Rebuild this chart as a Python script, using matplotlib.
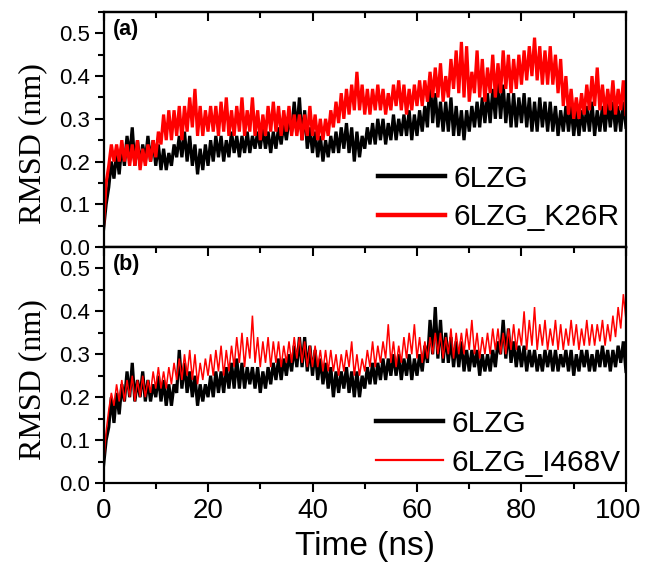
"""RMSD traces for 6LZG vs. the K26R and I468V variants (two stacked panels)."""

import matplotlib
matplotlib.use("Agg")
import matplotlib.pyplot as plt
import matplotlib.transforms as mtransforms
import numpy as np
from matplotlib.ticker import MultipleLocator

OUT_PATH = "out.png"

# time axis in ns, one low/high envelope pair per ns
TIME_NS = list(range(0, 101))

# panel (a): 6LZG
A_WT_LO = [0.04, 0.14, 0.16, 0.17, 0.19, 0.21, 0.19, 0.19, 0.20, 0.20,
           0.19, 0.18, 0.18, 0.19, 0.21, 0.21, 0.20, 0.19, 0.17, 0.18,
           0.19, 0.20, 0.21, 0.20, 0.21, 0.22, 0.21, 0.22, 0.22, 0.23,
           0.23, 0.23, 0.22, 0.23, 0.24, 0.25, 0.27, 0.27, 0.25, 0.23,
           0.22, 0.21, 0.20, 0.21, 0.22, 0.22, 0.23, 0.22, 0.20, 0.21,
           0.23, 0.24, 0.24, 0.25, 0.24, 0.25, 0.25, 0.26, 0.26, 0.25,
           0.26, 0.27, 0.28, 0.29, 0.28, 0.27, 0.27, 0.26, 0.26, 0.25,
           0.27, 0.28, 0.28, 0.29, 0.29, 0.30, 0.30, 0.29, 0.28, 0.28,
           0.29, 0.28, 0.27, 0.27, 0.28, 0.27, 0.27, 0.26, 0.27, 0.27,
           0.26, 0.26, 0.27, 0.27, 0.26, 0.27, 0.27, 0.28, 0.27, 0.27,
           0.28]
A_WT_HI = [0.10, 0.20, 0.22, 0.24, 0.26, 0.28, 0.25, 0.24, 0.26, 0.25,
           0.24, 0.23, 0.22, 0.24, 0.26, 0.27, 0.26, 0.24, 0.23, 0.24,
           0.25, 0.26, 0.26, 0.25, 0.27, 0.26, 0.26, 0.27, 0.26, 0.27,
           0.28, 0.27, 0.27, 0.28, 0.29, 0.30, 0.34, 0.35, 0.32, 0.28,
           0.27, 0.26, 0.25, 0.26, 0.27, 0.28, 0.29, 0.28, 0.27, 0.26,
           0.28, 0.29, 0.30, 0.30, 0.29, 0.31, 0.30, 0.31, 0.32, 0.31,
           0.32, 0.33, 0.40, 0.36, 0.34, 0.34, 0.35, 0.33, 0.32, 0.32,
           0.33, 0.34, 0.35, 0.36, 0.37, 0.39, 0.38, 0.36, 0.36, 0.35,
           0.36, 0.35, 0.34, 0.35, 0.34, 0.34, 0.33, 0.32, 0.33, 0.33,
           0.32, 0.32, 0.33, 0.34, 0.32, 0.33, 0.34, 0.34, 0.33, 0.34,
           0.32]

# panel (a): 6LZG_K26R
A_MUT_LO = [0.05, 0.19, 0.20, 0.20, 0.20, 0.19, 0.19, 0.18, 0.19, 0.20,
            0.21, 0.24, 0.25, 0.25, 0.26, 0.25, 0.27, 0.28, 0.26, 0.26,
            0.27, 0.27, 0.26, 0.27, 0.26, 0.26, 0.27, 0.26, 0.27, 0.26,
            0.25, 0.26, 0.27, 0.27, 0.26, 0.27, 0.26, 0.26, 0.25, 0.26,
            0.26, 0.25, 0.25, 0.26, 0.28, 0.29, 0.30, 0.31, 0.32, 0.32,
            0.31, 0.31, 0.32, 0.32, 0.31, 0.32, 0.33, 0.32, 0.31, 0.32,
            0.33, 0.33, 0.34, 0.35, 0.35, 0.34, 0.35, 0.37, 0.36, 0.35,
            0.34, 0.36, 0.35, 0.34, 0.36, 0.35, 0.36, 0.37, 0.36, 0.37,
            0.38, 0.39, 0.40, 0.39, 0.38, 0.38, 0.38, 0.36, 0.33, 0.31,
            0.30, 0.30, 0.31, 0.32, 0.33, 0.32, 0.31, 0.32, 0.31, 0.32,
            0.31]
A_MUT_HI = [0.15, 0.24, 0.24, 0.25, 0.24, 0.24, 0.25, 0.23, 0.24, 0.25,
            0.27, 0.31, 0.32, 0.32, 0.33, 0.33, 0.35, 0.37, 0.33, 0.32,
            0.33, 0.33, 0.34, 0.35, 0.32, 0.33, 0.35, 0.32, 0.35, 0.32,
            0.31, 0.33, 0.34, 0.33, 0.32, 0.33, 0.31, 0.31, 0.31, 0.33,
            0.31, 0.30, 0.30, 0.32, 0.34, 0.36, 0.37, 0.38, 0.41, 0.38,
            0.37, 0.37, 0.38, 0.37, 0.36, 0.38, 0.39, 0.38, 0.37, 0.38,
            0.39, 0.39, 0.41, 0.42, 0.43, 0.40, 0.44, 0.46, 0.48, 0.47,
            0.41, 0.46, 0.44, 0.42, 0.45, 0.43, 0.46, 0.45, 0.44, 0.45,
            0.46, 0.47, 0.49, 0.47, 0.46, 0.47, 0.45, 0.44, 0.40, 0.37,
            0.35, 0.36, 0.38, 0.40, 0.42, 0.38, 0.37, 0.39, 0.37, 0.39,
            0.36]

# panel (b): 6LZG
B_WT_LO = [0.04, 0.13, 0.14, 0.16, 0.19, 0.20, 0.19, 0.20, 0.19, 0.19,
           0.20, 0.19, 0.18, 0.18, 0.21, 0.22, 0.21, 0.20, 0.18, 0.19,
           0.20, 0.20, 0.21, 0.21, 0.22, 0.22, 0.22, 0.22, 0.23, 0.22,
           0.21, 0.22, 0.23, 0.24, 0.24, 0.25, 0.26, 0.27, 0.27, 0.26,
           0.25, 0.24, 0.23, 0.22, 0.20, 0.21, 0.22, 0.21, 0.20, 0.20,
           0.22, 0.23, 0.23, 0.24, 0.24, 0.25, 0.25, 0.24, 0.25, 0.24,
           0.25, 0.26, 0.28, 0.30, 0.29, 0.28, 0.28, 0.27, 0.27, 0.26,
           0.26, 0.27, 0.25, 0.26, 0.26, 0.27, 0.30, 0.29, 0.28, 0.27,
           0.27, 0.26, 0.27, 0.26, 0.26, 0.27, 0.26, 0.26, 0.27, 0.26,
           0.25, 0.26, 0.27, 0.26, 0.26, 0.27, 0.27, 0.26, 0.27, 0.28,
           0.26]
B_WT_HI = [0.10, 0.20, 0.21, 0.23, 0.26, 0.28, 0.24, 0.26, 0.24, 0.23,
           0.25, 0.24, 0.23, 0.23, 0.31, 0.28, 0.26, 0.25, 0.23, 0.23,
           0.25, 0.26, 0.26, 0.27, 0.28, 0.29, 0.28, 0.27, 0.27, 0.27,
           0.26, 0.27, 0.28, 0.29, 0.29, 0.30, 0.32, 0.34, 0.34, 0.32,
           0.31, 0.29, 0.28, 0.27, 0.26, 0.26, 0.27, 0.26, 0.26, 0.25,
           0.27, 0.28, 0.28, 0.29, 0.29, 0.30, 0.30, 0.29, 0.30, 0.29,
           0.30, 0.32, 0.38, 0.41, 0.38, 0.35, 0.34, 0.33, 0.33, 0.31,
           0.31, 0.31, 0.30, 0.30, 0.31, 0.33, 0.38, 0.36, 0.33, 0.32,
           0.32, 0.31, 0.31, 0.30, 0.31, 0.31, 0.31, 0.30, 0.31, 0.31,
           0.30, 0.31, 0.31, 0.30, 0.31, 0.32, 0.31, 0.31, 0.32, 0.33,
           0.31]

# panel (b): 6LZG_I468V
B_MUT_LO = [0.04, 0.17, 0.18, 0.19, 0.19, 0.20, 0.19, 0.20, 0.20, 0.21,
            0.22, 0.22, 0.22, 0.23, 0.24, 0.24, 0.25, 0.24, 0.23, 0.24,
            0.25, 0.25, 0.26, 0.25, 0.26, 0.27, 0.28, 0.27, 0.29, 0.28,
            0.27, 0.28, 0.27, 0.28, 0.27, 0.28, 0.28, 0.29, 0.28, 0.27,
            0.27, 0.27, 0.26, 0.26, 0.26, 0.25, 0.26, 0.27, 0.25, 0.25,
            0.26, 0.27, 0.27, 0.28, 0.29, 0.28, 0.27, 0.28, 0.29, 0.30,
            0.29, 0.28, 0.29, 0.30, 0.30, 0.29, 0.30, 0.29, 0.30, 0.30,
            0.31, 0.30, 0.29, 0.30, 0.30, 0.31, 0.30, 0.30, 0.31, 0.31,
            0.32, 0.31, 0.32, 0.31, 0.32, 0.31, 0.32, 0.31, 0.31, 0.32,
            0.32, 0.31, 0.32, 0.32, 0.32, 0.33, 0.32, 0.33, 0.34, 0.36,
            0.38]
B_MUT_HI = [0.12, 0.21, 0.23, 0.24, 0.24, 0.25, 0.24, 0.25, 0.24, 0.26,
            0.27, 0.26, 0.27, 0.28, 0.29, 0.30, 0.31, 0.30, 0.28, 0.29,
            0.30, 0.31, 0.32, 0.31, 0.32, 0.34, 0.35, 0.34, 0.39, 0.34,
            0.33, 0.34, 0.33, 0.33, 0.32, 0.33, 0.34, 0.34, 0.33, 0.32,
            0.32, 0.31, 0.31, 0.31, 0.30, 0.30, 0.31, 0.33, 0.30, 0.29,
            0.31, 0.33, 0.32, 0.33, 0.37, 0.33, 0.32, 0.34, 0.35, 0.37,
            0.34, 0.33, 0.34, 0.35, 0.35, 0.34, 0.36, 0.35, 0.35, 0.36,
            0.38, 0.35, 0.34, 0.35, 0.36, 0.36, 0.35, 0.36, 0.37, 0.36,
            0.40, 0.38, 0.41, 0.37, 0.38, 0.36, 0.38, 0.37, 0.36, 0.38,
            0.37, 0.36, 0.38, 0.37, 0.37, 0.38, 0.37, 0.39, 0.41, 0.44,
            0.46]

LABELS_A = ["6LZG", "6LZG_K26R"]
LABELS_B = ["6LZG", "6LZG_I468V"]

SANS = "Liberation Sans"
SERIF = "Liberation Serif"


def zigzag(lo, hi):
    """Walk the low/high envelope alternately so the trace reads as a noisy band."""
    t = np.asarray(TIME_NS, dtype=float)
    xs = np.empty(2 * len(t) - 1)
    ys = np.empty(2 * len(t) - 1)
    xs[0::2] = t
    xs[1::2] = t[:-1] + 0.5
    ys[0::2] = lo
    ys[1::2] = hi[:-1]
    return xs, ys


def style_axis(ax, show_xlabels):
    ax.set_xlim(0, 100)
    ax.set_ylim(0, 0.55)
    ax.xaxis.set_major_locator(MultipleLocator(20))
    ax.xaxis.set_minor_locator(MultipleLocator(10))
    ax.yaxis.set_major_locator(MultipleLocator(0.1))
    ax.yaxis.set_minor_locator(MultipleLocator(0.05))
    ax.yaxis.set_major_formatter(plt.FuncFormatter(lambda v, _: f"{v:.1f}"))
    for side in ax.spines.values():
        side.set_linewidth(1.6)
    ax.tick_params(axis="both", which="major", length=6.5, width=1.5)
    ax.tick_params(axis="both", which="minor", length=4, width=1.5)
    ax.tick_params(axis="x", which="both", direction="out", bottom=True,
                   top=False, labelsize=20, pad=4)
    ax.tick_params(axis="y", which="both", direction="out", left=True,
                   right=False, labelsize=16, pad=3)
    ax.tick_params(axis="x", labelbottom=show_xlabels)
    for lab in ax.get_xticklabels() + ax.get_yticklabels():
        lab.set_family(SANS)
    # top axis: ticks pointing into the plot, no labels
    top = ax.secondary_xaxis("top")
    top.xaxis.set_major_locator(MultipleLocator(20))
    top.xaxis.set_minor_locator(MultipleLocator(10))
    top.tick_params(which="major", direction="in", length=6.5, width=1.5,
                    labeltop=False)
    top.tick_params(which="minor", direction="in", length=4, width=1.5)
    top.spines["top"].set_linewidth(1.6)
    ax.set_ylabel("RMSD (nm)", family=SERIF, fontsize=23)
    ax.yaxis.set_label_coords(-0.108, 0.44)


def draw_panel(ax, wt, mut, labels, tag, mut_lw, mut_leg_lw, leg_anchor):
    x, y = zigzag(*wt)
    ax.plot(x, y, color="black", lw=2.3, solid_joinstyle="miter")
    x, y = zigzag(*mut)
    ax.plot(x, y, color="#ff0000", lw=mut_lw, solid_joinstyle="miter")

    handles = [
        plt.Line2D([], [], color="black", lw=3.2),
        plt.Line2D([], [], color="#ff0000", lw=mut_leg_lw),
    ]
    ax.legend(handles, labels, loc="upper left", bbox_to_anchor=leg_anchor,
              frameon=False, borderpad=0, borderaxespad=0,
              handlelength=2.25, handletextpad=0.3, labelspacing=0.36,
              prop={"family": SANS, "size": 21.5})
    ax.text(0.018, 0.97, tag, transform=ax.transAxes, ha="left", va="top",
            family=SANS, fontweight="bold", fontsize=15.5)


def nudge_xlabel(fig, ax, value, dx_pt):
    # the "100" label sits tight against the right edge, pull it in a bit
    fig.canvas.draw()
    shift = mtransforms.ScaledTranslation(dx_pt / 72, 0, fig.dpi_scale_trans)
    for tick in ax.xaxis.get_major_ticks():
        if abs(tick.get_loc() - value) < 1e-6:
            tick.label1.set_transform(tick.label1.get_transform() + shift)


def main():
    fig = plt.figure(figsize=(6.45, 5.64), dpi=100)
    fig.patch.set_facecolor("white")
    ax_a = fig.add_axes([0.1605, 0.5621, 0.810, 0.4166])
    ax_b = fig.add_axes([0.1605, 0.1436, 0.810, 0.4185])

    draw_panel(ax_a, (A_WT_LO, A_WT_HI), (A_MUT_LO, A_MUT_HI), LABELS_A,
               "(a)", 2.3, 3.2, (0.525, 0.35))
    draw_panel(ax_b, (B_WT_LO, B_WT_HI), (B_MUT_LO, B_MUT_HI), LABELS_B,
               "(b)", 1.1, 1.6, (0.521, 0.31))

    style_axis(ax_a, show_xlabels=False)
    style_axis(ax_b, show_xlabels=True)
    ax_b.set_xlabel("Time (ns)", family=SANS, fontsize=24, labelpad=5)

    nudge_xlabel(fig, ax_b, 100, -5.5)
    fig.savefig(OUT_PATH, dpi=100)
    plt.close(fig)


if __name__ == "__main__":
    main()
